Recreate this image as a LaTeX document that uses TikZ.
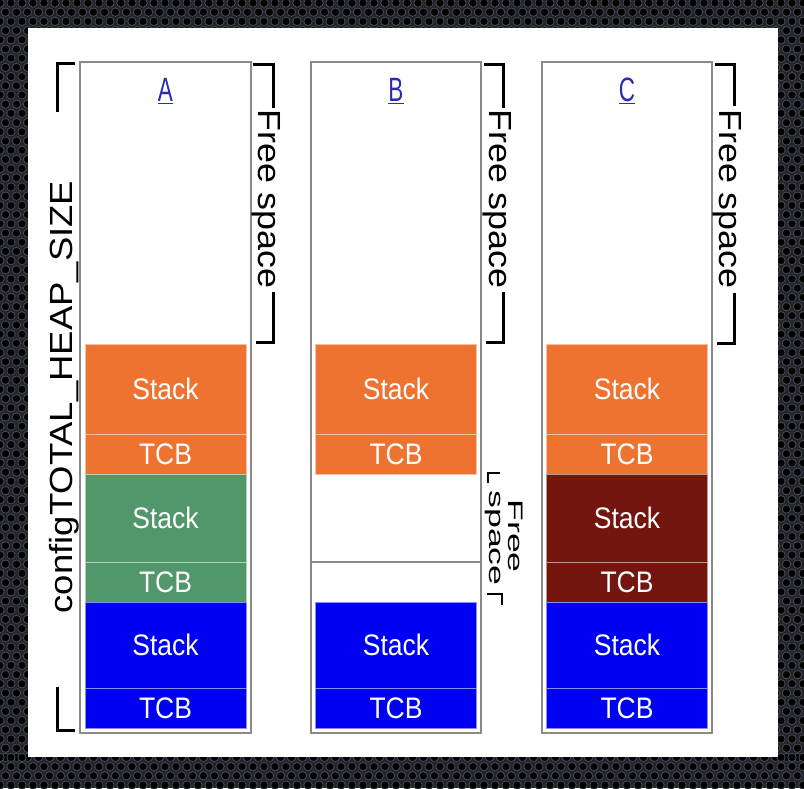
\documentclass[tikz,border=0pt]{standalone}
\usepackage{fontspec}
\setmainfont{Liberation Sans}
\definecolor{orng}{HTML}{EE7331}
\definecolor{grn}{HTML}{52976C}
\definecolor{dred}{HTML}{731610}
\definecolor{blu}{HTML}{0000F2}
\definecolor{bgdark}{HTML}{22242A}
\definecolor{holeedge}{HTML}{444850}
\definecolor{boxgray}{HTML}{8A8A8A}
\definecolor{lblblue}{HTML}{2B2BB0}
\newcommand{\blklbl}[1]{\fontsize{26.5}{26.5}\selectfont\scalebox{1}[1.12]{#1}}
\newcommand{\rotlbl}[2]{\fontsize{#1}{#1}\selectfont\scalebox{#2}[1]}
\begin{document}
\begin{tikzpicture}[x=1pt,y=-1pt,
  blk/.style={fill=#1, draw=white!55!#1, line width=1pt, minimum width=161pt, inner sep=0pt, text=white},
  heapbox/.style={draw=boxgray, line width=1.5pt},
  brk/.style={draw=black, line width=3pt},
  rottxt/.style={inner sep=0pt, anchor=base},
  colname/.style={text=lblblue, inner sep=0pt, font=\fontsize{25}{25}\selectfont}
]
\useasboundingbox (0,0) rectangle (804,788);
% dark textured frame
\fill[bgdark] (0,0) rectangle (804,788);
\foreach \r in {0,1,2,3} {
  \pgfmathsetmacro{\yy}{3+\r*9.2}
  \pgfmathsetmacro{\yb}{788-3-\r*9.2}
  \pgfmathsetmacro{\off}{mod(\r,2)*5.5}
  \foreach \c in {0,...,73} {
    \draw[holeedge, fill=black, line width=0.9pt] (\c*11+\off,\yy) circle (4.2);
    \draw[holeedge, fill=black, line width=0.9pt] (\c*11+\off,\yb) circle (4.2);
  }
}
\foreach \r in {4,...,82} {
  \pgfmathsetmacro{\yy}{3+\r*9.2}
  \pgfmathsetmacro{\off}{mod(\r,2)*5.5}
  \foreach \c in {0,1,2} {
    \draw[holeedge, fill=black, line width=0.9pt] (\c*11+\off,\yy) circle (4.2);
    \draw[holeedge, fill=black, line width=0.9pt] (781+\c*11-\off,\yy) circle (4.2);
  }
}
\fill[white] (28,28) rectangle (778,757);

% heap boxes
\draw[heapbox] (80,62) rectangle (251,733);
\draw[heapbox] (311,62) rectangle (481,733);
\draw[heapbox] (542,62) rectangle (712,733);
\coordinate (bl) at (311,562);
\coordinate (br) at (481,562);
\draw[boxgray, line width=1.2pt] (bl) -- (br);

% column names
\node[colname] (nA) at (165.5,91) {\scalebox{0.9}[1.35]{\underline{A}}};
\node[colname] (nB) at (396,91) {\scalebox{0.9}[1.35]{\underline{B}}};
\node[colname] (nC) at (627,91) {\scalebox{0.9}[1.35]{\underline{C}}};

% column A blocks
\node[blk=orng, minimum height=90pt] (a1) at (165.5,389) {\blklbl{Stack}};
\node[blk=orng, minimum height=40pt] (a2) at (165.5,454) {\blklbl{TCB}};
\node[blk=grn, minimum height=88pt] (a3) at (165.5,518) {\blklbl{Stack}};
\node[blk=grn, minimum height=40pt] (a4) at (165.5,582) {\blklbl{TCB}};
\node[blk=blu, minimum height=86pt] (a5) at (165.5,645) {\blklbl{Stack}};
\node[blk=blu, minimum height=40pt] (a6) at (165.5,708) {\blklbl{TCB}};
% column B blocks
\node[blk=orng, minimum height=90pt] (b1) at (396,389) {\blklbl{Stack}};
\node[blk=orng, minimum height=40pt] (b2) at (396,454) {\blklbl{TCB}};
\node[blk=blu, minimum height=86pt] (b5) at (396,645) {\blklbl{Stack}};
\node[blk=blu, minimum height=40pt] (b6) at (396,708) {\blklbl{TCB}};
% column C blocks
\node[blk=orng, minimum height=90pt] (c1) at (627,389) {\blklbl{Stack}};
\node[blk=orng, minimum height=40pt] (c2) at (627,454) {\blklbl{TCB}};
\node[blk=dred, minimum height=88pt] (c3) at (627,518) {\blklbl{Stack}};
\node[blk=dred, minimum height=40pt] (c4) at (627,582) {\blklbl{TCB}};
\node[blk=blu, minimum height=86pt] (c5) at (627,645) {\blklbl{Stack}};
\node[blk=blu, minimum height=40pt] (c6) at (627,708) {\blklbl{TCB}};

% total heap size bracket
\draw[brk] (75,63) -- (57,63) -- (57,112);
\draw[brk] (57,687) -- (57,730) -- (75,730);
\node[rottxt, rotate=90] (heap) at (72,397) {\rotlbl{32}{1.14}{configTOTAL\_HEAP\_SIZE}};

% free space brackets
\draw[brk] (253,64) -- (273,64) -- (273,108);
\draw[brk] (273,292) -- (273,342) -- (256,342);
\node[rottxt, rotate=-90] (fA) at (258,199) {\rotlbl{32}{1.12}{Free space}};

\draw[brk] (484,64) -- (503,64) -- (503,108);
\draw[brk] (503,292) -- (503,342) -- (486,342);
\node[rottxt, rotate=-90] (fB) at (489,199) {\rotlbl{32}{1.12}{Free space}};

\draw[brk] (715,64) -- (734,64) -- (734,106);
\draw[brk] (734,293) -- (734,343) -- (717,343);
\node[rottxt, rotate=-90] (fC) at (719,199) {\rotlbl{32}{1.12}{Free space}};

% small free space in B
\draw[black, line width=2.6pt] (500,473) -- (488,473) -- (488,483);
\draw[black, line width=2.6pt] (487,594) -- (502,594) -- (502,605);
\node[rottxt, rotate=-90] (fB1) at (508,536) {\rotlbl{21}{1.7}{Free}};
\node[rottxt, rotate=-90] (fB2) at (489,538) {\rotlbl{21}{1.7}{space}};
\end{tikzpicture}
\end{document}
